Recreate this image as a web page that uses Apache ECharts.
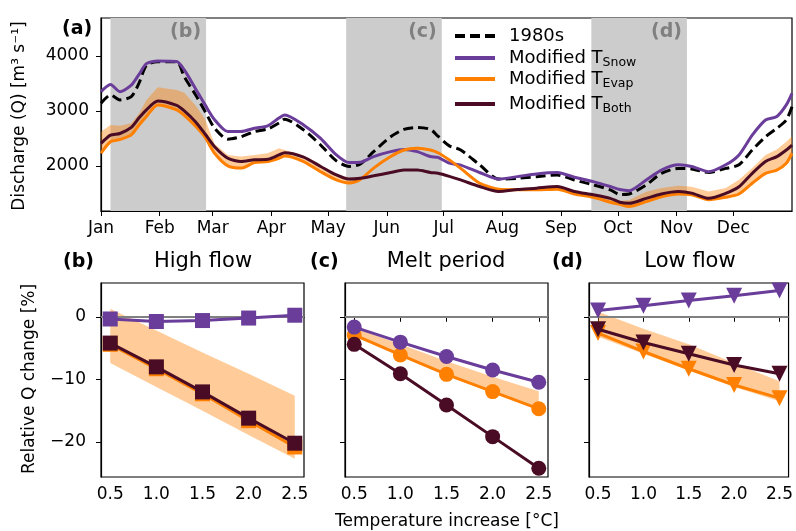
<!DOCTYPE html>
<html>
<head>
<meta charset="utf-8">
<script src="https://cdn.jsdelivr.net/npm/echarts@6/dist/echarts.min.js"></script>
<style>
  html, body { margin: 0; padding: 0; background: #fff; }
  #chart { width: 796px; height: 531px; }
</style>
</head>
<body>
<div id="chart"></div>
<script>
// Panel (a): day of year and discharge
const days = [0, 5, 10, 16, 20, 24, 30, 40, 44, 50, 55, 60, 67, 74, 81, 88, 94, 97, 107, 116, 124, 131, 137, 144, 153, 160, 167, 174, 178, 184, 190, 200, 210, 220, 230, 241, 250, 260, 269, 274, 279, 288, 296, 305, 312, 321, 330, 337, 344, 351, 357, 362, 365];
const q1980s = [3140, 3290, 3200, 3260, 3500, 3830, 3895, 3895, 3620, 3290, 2990, 2685, 2485, 2530, 2625, 2670, 2780, 2850, 2655, 2380, 2100, 1990, 2035, 2260, 2530, 2665, 2700, 2665, 2540, 2365, 2290, 2020, 1760, 1775, 1805, 1835, 1745, 1655, 1565, 1480, 1490, 1655, 1865, 1955, 1945, 1880, 1955, 2020, 2290, 2530, 2685, 2835, 3080];
const qSnow = [3350, 3480, 3350, 3470, 3660, 3860, 3910, 3900, 3745, 3400, 3110, 2840, 2625, 2625, 2685, 2730, 2870, 2925, 2745, 2500, 2210, 2060, 2065, 2170, 2260, 2300, 2260, 2170, 2155, 2050, 2015, 1880, 1760, 1805, 1855, 1880, 1795, 1715, 1625, 1570, 1550, 1745, 1925, 2020, 1990, 1895, 2020, 2200, 2560, 2835, 2900, 3110, 3320];
const qEvap = [2230, 2440, 2480, 2565, 2740, 2900, 3110, 3020, 2920, 2720, 2520, 2230, 2000, 1960, 2060, 2080, 2140, 2180, 2080, 1895, 1750, 1690, 1755, 1960, 2170, 2290, 2320, 2290, 2240, 2110, 1955, 1685, 1575, 1565, 1565, 1575, 1490, 1430, 1340, 1300, 1260, 1350, 1440, 1490, 1475, 1385, 1430, 1490, 1685, 1865, 1925, 2050, 2230];
const qBoth = [2410, 2560, 2590, 2700, 2870, 3020, 3180, 3100, 3000, 2800, 2580, 2350, 2140, 2080, 2110, 2120, 2200, 2240, 2160, 1990, 1840, 1760, 1775, 1820, 1880, 1925, 1925, 1880, 1865, 1810, 1745, 1625, 1535, 1570, 1595, 1625, 1535, 1475, 1410, 1340, 1320, 1410, 1490, 1535, 1505, 1410, 1500, 1620, 1865, 2080, 2170, 2290, 2380];
const qEvapHigh = [2620, 2745, 2730, 2775, 2950, 3200, 3430, 3380, 3330, 3100, 2850, 2400, 2200, 2170, 2200, 2230, 2320, 2290, 2190, 2020, 1860, 1780, 1790, 1970, 2190, 2320, 2350, 2310, 2260, 2130, 1975, 1710, 1595, 1595, 1610, 1640, 1550, 1490, 1420, 1360, 1380, 1530, 1600, 1640, 1620, 1535, 1600, 1750, 1960, 2200, 2300, 2440, 2540];
const monthStarts = [0, 31, 59, 90, 120, 151, 181, 212, 243, 273, 304, 334];
const monthNames = ["Jan", "Feb", "Mar", "Apr", "May", "Jun", "Jul", "Aug", "Sep", "Oct", "Nov", "Dec"];
const qTicks = [2000, 3000, 4000];

// Panels (b)-(d): relative change [%] per temperature increase
const tempSteps = [0.5, 1.0, 1.5, 2.0, 2.5];
const tempTicks = [0.5, 1.0, 1.5, 2.0, 2.5];
const pctTicks = [-20, -10, 0];

const highSnow = [-0.35, -0.75, -0.6, -0.2, 0.25];
const highEvap = [-4.4, -8.3, -12.3, -16.6, -20.8];
const highBoth = [-4.2, -8.0, -12.0, -16.2, -20.2];
const highBandUp = [1.3, -2.2, -5.7, -9.1, -12.6];
const highBandLow = [-7.4, -11.2, -15.0, -18.9, -22.7];

const meltSnow = [-1.65, -4.05, -6.35, -8.5, -10.45];
const meltEvap = [-2.9, -6.1, -9.2, -11.95, -14.7];
const meltBoth = [-4.4, -9.1, -14.1, -19.15, -24.2];
const meltBandUp = [-1.8, -4.4, -7.1, -9.6, -11.9];
const meltBandLow = [-3.1, -6.3, -9.4, -12.1, -14.8];

const lowSnow = [1.0, 1.75, 2.6, 3.35, 4.2];
const lowEvap = [-2.6, -5.55, -8.3, -10.9, -13.0];
const lowBoth = [-2.0, -4.1, -5.9, -7.7, -9.1];
const lowBandUp = [0.8, -1.9, -4.4, -7.4, -10.3];
const lowBandLow = [-3.2, -5.9, -8.6, -11.2, -13.5];

const FONT = "DejaVu Sans";
const PURPLE = "#6a3d9a";
const ORANGE = "#ff8000";
const DARK = "#4a0c25";
const BAND = "rgba(255, 128, 0, 0.4)";

function pairs(xs, ys) {
  return xs.map((x, i) => [x, ys[i]]);
}

function minusSign(v) {
  return String(v).replace("-", "\u2212");
}

// shaded uncertainty band as a polygon between two arrays
function bandSeries(xs, lo, hi, idx, extra) {
  return Object.assign({
    type: "custom",
    xAxisIndex: idx,
    yAxisIndex: idx,
    silent: true,
    z: 2,
    data: xs.map((x, i) => [x, lo[i], hi[i]]),
    encode: { x: 0, y: [1, 2] },
    renderItem: function (params, api) {
      if (params.dataIndex !== 0) return null;
      const top = xs.map((x, i) => api.coord([x, hi[i]]));
      const bottom = xs.map((x, i) => api.coord([x, lo[i]])).reverse();
      return {
        type: "polygon",
        shape: { points: top.concat(bottom) },
        style: { fill: BAND },
      };
    },
  }, extra || {});
}

function lineSeries(name, xs, ys, color, idx, extra) {
  return Object.assign({
    name: name,
    type: "line",
    xAxisIndex: idx,
    yAxisIndex: idx,
    data: pairs(xs, ys),
    symbol: "none",
    smooth: 0.25,
    lineStyle: { color: color, width: 3 },
    itemStyle: { color: color },
    z: 4,
  }, extra || {});
}

function markerSeries(xs, ys, color, idx, symbol, size, z) {
  return {
    type: "line",
    xAxisIndex: idx,
    yAxisIndex: idx,
    data: pairs(xs, ys),
    symbol: symbol,
    symbolSize: size,
    showSymbol: true,
    lineStyle: { color: color, width: 3 },
    itemStyle: { color: color, opacity: 1 },
    z: z,
  };
}

const tickStyle = { show: true, length: 5, lineStyle: { color: "#000", width: 1 } };
const labelStyle = { color: "#000", fontFamily: FONT, fontSize: 17 };

const grids = [
  { left: 101, top: 18, width: 691, height: 193 },
  { left: 101, top: 283, width: 203, height: 194 },
  { left: 345, top: 283, width: 203, height: 194 },
  { left: 589, top: 283, width: 203, height: 194 },
].map(g => Object.assign(g, { show: true, borderColor: "#000", borderWidth: 1.2, containLabel: false }));

const xAxes = [
  {
    type: "value", gridIndex: 0, min: 0, max: 365,
    axisLine: { show: true, lineStyle: { color: "#000", width: 1.2 } },
    axisTick: Object.assign({ customValues: monthStarts }, tickStyle),
    axisLabel: Object.assign({
      customValues: monthStarts, margin: 9,
      formatter: v => monthNames[monthStarts.indexOf(v)],
    }, labelStyle),
    splitLine: { show: false },
  },
];
const yAxes = [
  {
    type: "value", gridIndex: 0, min: 1180, max: 4690,
    axisLine: { show: true, lineStyle: { color: "#000", width: 1.2 } },
    axisTick: Object.assign({ customValues: qTicks }, tickStyle),
    axisLabel: Object.assign({ customValues: qTicks, margin: 12, formatter: v => String(v) }, labelStyle),
    splitLine: { show: false },
  },
];
for (let i = 1; i <= 3; i++) {
  xAxes.push({
    type: "value", gridIndex: i, min: 0.4, max: 2.6,
    axisLine: { show: true, lineStyle: { color: "#000", width: 1.2 } },
    axisTick: Object.assign({ customValues: tempTicks }, tickStyle),
    axisLabel: Object.assign({
      customValues: tempTicks, margin: 9,
      formatter: v => v.toFixed(1),
    }, labelStyle),
    splitLine: { show: false },
  });
  yAxes.push({
    type: "value", gridIndex: i, min: -25.6, max: 5.4,
    axisLine: { show: true, lineStyle: { color: "#000", width: 1.2 } },
    axisTick: Object.assign({ customValues: pctTicks }, tickStyle),
    axisLabel: Object.assign({
      show: i === 1, customValues: pctTicks, margin: 15,
      formatter: v => minusSign(v),
    }, labelStyle),
    splitLine: { show: false },
  });
}

const zeroLine = {
  silent: true, symbol: "none", z: 3,
  label: { show: false },
  lineStyle: { color: "#808080", width: 2.2, type: "solid" },
  data: [{ yAxis: 0 }],
};

const seasonAreas = {
  silent: true,
  z: 1,
  itemStyle: { color: "#cccccc" },
  label: {
    show: true, position: "insideTopRight", distance: 5, formatter: "{b}",
    color: "#808080", fontFamily: FONT, fontWeight: "bold", fontSize: 19,
  },
  data: [
    [{ name: "(b)", xAxis: 5 }, { xAxis: 55.5 }],
    [{ name: "(c)", xAxis: 129.5 }, { xAxis: 180 }],
    [{ name: "(d)", xAxis: 259 }, { xAxis: 309.5 }],
  ],
};

const series = [
  bandSeries(days, qEvap, qEvapHigh, 0),
  lineSeries("1980s", days, q1980s, "#000", 0, {
    lineStyle: { color: "#000", width: 3, type: [10, 5] }, z: 3, markArea: seasonAreas,
  }),
  lineSeries("Modified T_Snow", days, qSnow, PURPLE, 0, { z: 3 }),
  lineSeries("Modified T_Evap", days, qEvap, ORANGE, 0),
  lineSeries("Modified T_Both", days, qBoth, DARK, 0),

  bandSeries(tempSteps, highBandLow, highBandUp, 1, { markLine: zeroLine }),
  markerSeries(tempSteps, highEvap, ORANGE, 1, "rect", 15, 5),
  markerSeries(tempSteps, highBoth, DARK, 1, "rect", 15, 6),
  markerSeries(tempSteps, highSnow, PURPLE, 1, "rect", 15, 7),

  bandSeries(tempSteps, meltBandLow, meltBandUp, 2, { markLine: zeroLine }),
  markerSeries(tempSteps, meltEvap, ORANGE, 2, "circle", 15, 5),
  markerSeries(tempSteps, meltBoth, DARK, 2, "circle", 15, 6),
  markerSeries(tempSteps, meltSnow, PURPLE, 2, "circle", 15, 7),

  bandSeries(tempSteps, lowBandLow, lowBandUp, 3, { markLine: zeroLine }),
  markerSeries(tempSteps, lowEvap, ORANGE, 3, "path://M0,0 L10,0 L5,9 Z", 16, 5),
  markerSeries(tempSteps, lowBoth, DARK, 3, "path://M0,0 L10,0 L5,9 Z", 16, 6),
  markerSeries(tempSteps, lowSnow, PURPLE, 3, "path://M0,0 L10,0 L5,9 Z", 16, 7),
];

const legendRows = [
  { name: "1980s", top: 27 },
  { name: "Modified T_Snow", top: 48 },
  { name: "Modified T_Evap", top: 69 },
  { name: "Modified T_Both", top: 94 },
];
const legends = legendRows.map(r => ({
  data: [r.name],
  left: 453, top: r.top,
  orient: "vertical",
  itemWidth: 40, itemHeight: 14,
  padding: 0,
  selectedMode: false,
  lineStyle: { width: 4 },
  itemStyle: { opacity: 0 },
  formatter: function (name) {
    if (name === "1980s") return "{a|1980s}";
    return "{a|Modified T}{s|" + name.split("_")[1] + "}";
  },
  textStyle: {
    padding: [0, 0, 0, 9],
    rich: {
      a: { fontFamily: FONT, fontSize: 18, color: "#000", lineHeight: 22 },
      s: { fontFamily: FONT, fontSize: 12.5, color: "#000", verticalAlign: "bottom", lineHeight: 22, padding: [8, 0, 0, 0] },
    },
  },
}));

const titleStyle = { fontFamily: FONT, fontSize: 21, fontWeight: "normal", color: "#000" };
const tagStyle = { fontFamily: FONT, fontSize: 19, fontWeight: "bold", color: "#000" };
const titles = [
  { text: "(a)", left: 62, top: 20, textStyle: tagStyle },
  { text: "(b)", left: 63, top: 253, textStyle: tagStyle },
  { text: "(c)", left: 310, top: 253, textStyle: tagStyle },
  { text: "(d)", left: 552, top: 253, textStyle: tagStyle },
  { text: "High flow", left: 203, textAlign: "center", top: 251, textStyle: titleStyle },
  { text: "Melt period", left: 446, textAlign: "center", top: 251, textStyle: titleStyle },
  { text: "Low flow", left: 690, textAlign: "center", top: 251, textStyle: titleStyle },
].map(t => Object.assign(t, { padding: 0 }));

const chart = echarts.init(document.getElementById("chart"), null, { renderer: "canvas" });
chart.setOption({
  animation: false,
  backgroundColor: "#fff",
  title: titles,
  legend: legends,
  grid: grids,
  xAxis: xAxes,
  yAxis: yAxes,
  series: series,
  graphic: [
    {
      type: "text", x: 20, y: 116, rotation: Math.PI / 2,
      style: { text: "Discharge (Q) [m\u00b3 s\u207b\u00b9]", fontFamily: FONT, fontSize: 17, fill: "#000", align: "center", verticalAlign: "middle" },
    },
    {
      type: "text", x: 30, y: 379, rotation: Math.PI / 2,
      style: { text: "Relative Q change [%]", fontFamily: FONT, fontSize: 17, fill: "#000", align: "center", verticalAlign: "middle" },
    },
    {
      type: "text", x: 447, y: 522,
      style: { text: "Temperature increase [\u00b0C]", fontFamily: FONT, fontSize: 17, fill: "#000", align: "center", verticalAlign: "middle" },
    },
  ],
});
</script>
</body>
</html>
